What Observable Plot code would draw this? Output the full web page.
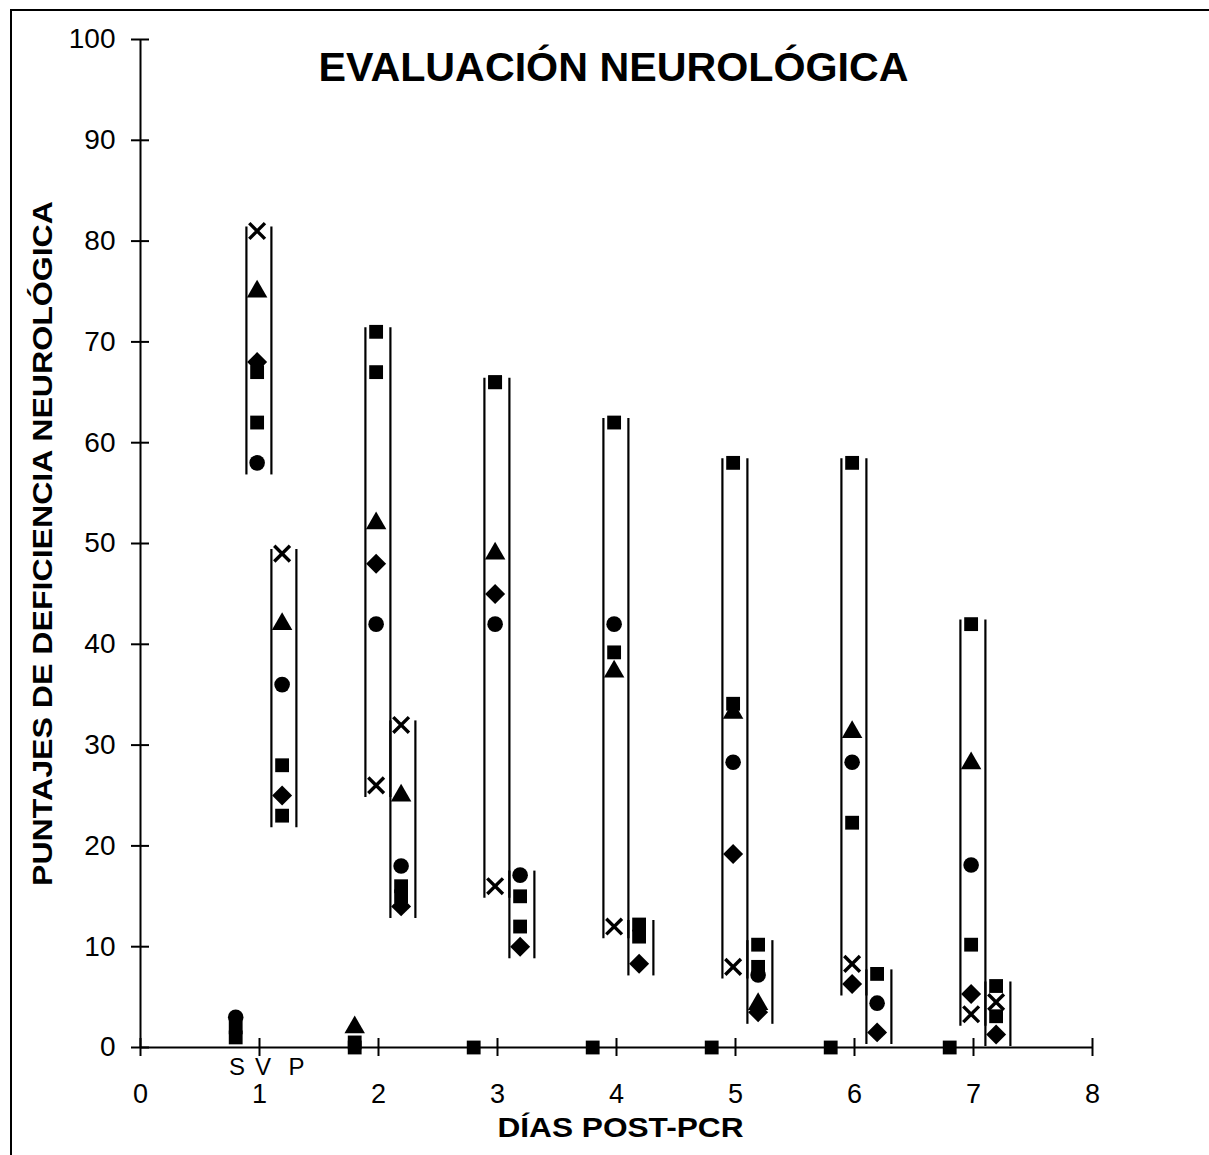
<!DOCTYPE html>
<html><head><meta charset="utf-8">
<script src="https://cdn.jsdelivr.net/npm/d3@7"></script>
<script src="https://cdn.jsdelivr.net/npm/@observablehq/plot@0.6"></script>
<style>
html,body{margin:0;padding:0;background:#fff;}
#wrap{position:relative;width:1209px;height:1155px;overflow:hidden;}
#frame{position:absolute;left:10px;top:9px;right:-4px;bottom:-4px;border-left:2px solid #000;border-top:2px solid #000;pointer-events:none;}
</style></head><body><div id="wrap"><div id="frame"></div></div>
<script>
// ---- data ----
const days = [1, 2, 3, 4, 5, 6, 7];
const groups = ["S", "V", "P"];
const xTicks = [0, 1, 2, 3, 4, 5, 6, 7, 8];
const yTicks = [0, 10, 20, 30, 40, 50, 60, 70, 80, 90, 100];
const title = "EVALUACIÓN NEUROLÓGICA";
const xTitle = "DÍAS POST-PCR";
const yTitle = "PUNTAJES DE DEFICIENCIA NEUROLÓGICA";
// values ordered S1,V1,P1, S2,V2,P2, ... S7,V7,P7 (null = no point)
const crossVals    = [null, 81, 49,  null, 26, 32,  null, 16, null,  null, 12, null,  null, 8, null,   null, 8.3, null,  null, 3.3, 4.5];
const triangleVals = [null, 75, 42,  2, 52, 25,     null, 49, null,  null, 37.3, null, null, 33.2, 4.3, null, 31.3, null, null, 28.2, null];
const diamondVals  = [null, 68, 25,  null, 48, 14,  null, 45, 10,    null, null, 8.3, null, 19.2, 3.5,  null, 6.3, 1.5,   null, 5.3, 1.3];
const circleVals   = [3, 58, 36,     null, 42, 18,  null, 42, 17.1,  null, 42, null,  null, 28.3, 7.2,  null, 28.3, 4.4,  null, 18.1, null];
const squareVals   = [1, 67, 23,     0, 71, 15,     0, 66, 12,       0, 62, 11,       0, 58, 8,         0, 58, 7.3,       0, 42, 6.1];
const square2Vals  = [2, 62, 28,     0.5, 67, 16,   null, 66, 15,    null, 39.2, 12.2, null, 34.1, 10.2, null, 22.3, null, null, 10.2, 3.1];
const svpLabels = ["S", "V", "P"];

// ---- layout constants ----
const groupOffset = {S: -0.2, V: -0.02, P: 0.19};
const labelOffset = {S: -0.19, V: 0.03, P: 0.31};
const font = "'Liberation Sans', Arial, sans-serif";

const seriesList = [
  {name: "square", vals: squareVals},
  {name: "square2", vals: square2Vals},
  {name: "circle", vals: circleVals},
  {name: "triangle", vals: triangleVals},
  {name: "diamond", vals: diamondVals},
  {name: "cross", vals: crossVals}
];
const rows = [];
for (const s of seriesList) {
  s.vals.forEach((v, i) => {
    if (v == null) return;
    const day = days[Math.floor(i / 3)];
    const g = groups[i % 3];
    rows.push({series: s.name, day, group: g, x: day + groupOffset[g], y: v});
  });
}
// brackets (range lines) for V and P groups
const brackets = [];
for (const day of days) {
  for (const g of ["V", "P"]) {
    const vs = rows.filter(r => r.day === day && r.group === g).map(r => r.y);
    const lo = d3.min(vs) - 1.2, hi = d3.max(vs) + 0.4;
    const cx = day + groupOffset[g] + 0.015;
    brackets.push({x: cx - 0.105, lo, hi});
    brackets.push({x: cx + 0.105, lo, hi});
  }
}
const sel = n => rows.filter(r => r.series === n);

const plot = Plot.plot({
  width: 1209, height: 1155,
  marginLeft: 140, marginRight: 117, marginTop: 39, marginBottom: 108,
  x: {domain: [0, 8]},
  y: {domain: [0, 100]},
  style: {fontFamily: font, background: "transparent", color: "#000"},
  marks: [
    Plot.axisX({ticks: xTicks, tickSize: 0, tickPadding: 36, fontSize: 27, label: null, tickFormat: d => d}),
    Plot.axisY({ticks: yTicks, tickSize: 0, tickPadding: 25, fontSize: 28, label: null, tickFormat: d => d}),
    Plot.ruleY([0], {x1: 0, x2: 8, strokeWidth: 2}),
    Plot.ruleX([0], {y1: 0, y2: 100, strokeWidth: 2}),
    Plot.ruleX(xTicks, {x: d => d, y1: 0, y2: 0, insetTop: -9, insetBottom: -9, strokeWidth: 2}),
    Plot.ruleY(yTicks, {y: d => d, x1: 0, x2: 0, insetLeft: -9, insetRight: -9, strokeWidth: 2}),
    Plot.ruleX(brackets, {x: "x", y1: "lo", y2: "hi", strokeWidth: 2.2}),
    Plot.dot(sel("square"), {x: "x", y: "y", symbol: "square", r: 7.8, fill: "#000"}),
    Plot.dot(sel("square2"), {x: "x", y: "y", symbol: "square", r: 7.8, fill: "#000"}),
    Plot.dot(sel("circle"), {x: "x", y: "y", symbol: "circle", r: 7.8, fill: "#000"}),
    Plot.dot(sel("triangle"), {x: "x", y: "y", symbol: "triangle", r: 7.6, fill: "#000"}),
    Plot.dot(sel("diamond"), {x: "x", y: "y", symbol: "diamond2", r: 9, fill: "#000"}),
    Plot.dot(sel("cross"), {x: "x", y: "y", symbol: "times", r: 7.2, stroke: "#000", strokeWidth: 3.4, fill: "none"}),
    Plot.text(svpLabels, {x: d => 1 + labelOffset[d], text: d => d, frameAnchor: "bottom", dy: 20, fontSize: 24, fontWeight: 500, lineAnchor: "middle"}),
    Plot.text([title], {frameAnchor: "top", text: d => d, dy: 29, dx: -3, fontSize: 40, fontWeight: "bold", lineAnchor: "middle"}),
    Plot.text([xTitle], {frameAnchor: "bottom", text: d => d, dy: 81, dx: 4, fontSize: 28, fontWeight: "bold", lineAnchor: "middle"}),
    Plot.text([yTitle], {frameAnchor: "left", text: d => d, rotate: -90, dx: -97, fontSize: 28, fontWeight: "bold", lineAnchor: "middle", textAnchor: "middle"})
  ]
});
// condensed lettering as in the reference
const lengths = {[title]: 590, [xTitle]: 246, [yTitle]: 685};
plot.querySelectorAll("text").forEach(t => {
  const L = lengths[t.textContent];
  if (L) { t.setAttribute("textLength", L); t.setAttribute("lengthAdjust", "spacingAndGlyphs"); }
});
plot.style.position = "absolute";
plot.style.left = "0px";
plot.style.top = "0px";
document.getElementById("wrap").appendChild(plot);
</script>
</body></html>
